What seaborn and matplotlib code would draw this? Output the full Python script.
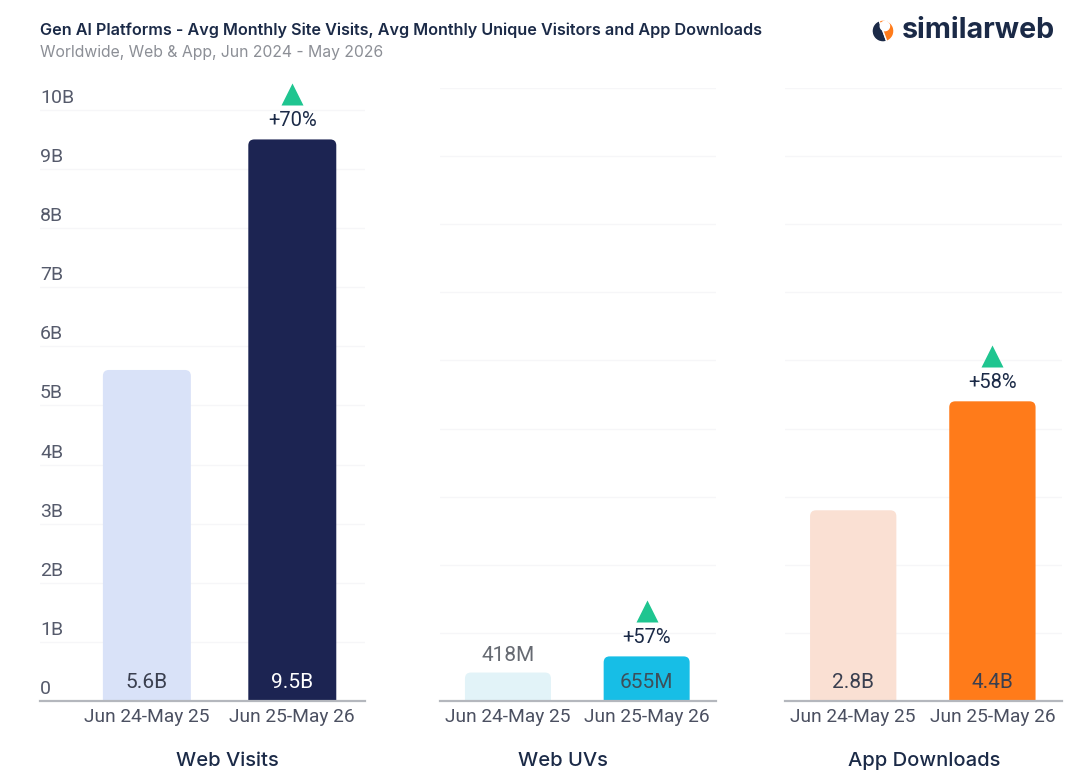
import numpy as np
import pandas as pd
import matplotlib
matplotlib.use("Agg")
import matplotlib.pyplot as plt
import matplotlib.transforms as mtransforms
from matplotlib.patches import FancyBboxPatch, Wedge
import seaborn as sns

# data (values in billions)
periods = ["Jun 24-May 25", "Jun 25-May 26"]
panel_titles = ["Web Visits", "Web UVs", "App Downloads"]
web_visits = [5.6, 9.5]
web_uvs = [0.418, 0.655]
app_downloads = [2.8, 4.4]
visit_labels = ["5.6B", "9.5B"]
uv_labels = ["418M", "655M"]
download_labels = ["2.8B", "4.4B"]
growth_labels = ["+70%", "+57%", "+58%"]
ytick_values = list(range(0, 11))
ytick_labels = ["0"] + [f"{v}B" for v in range(1, 11)]

# styles
NAVY = "#1b2a47"
palettes = [["#d9e2f8", "#1c2452"], ["#e2f3f8", "#17bee6"], ["#fae0d3", "#ff7b1a"]]
value_colors = [["#3a3f4f", "#ffffff"], ["#666a72", "#3d4f5a"], ["#3a3f4f", "#3a3f4f"]]
GREEN = "#1fc590"

sns.set_style("white")
plt.rcParams["font.family"] = ["Roboto", "DejaVu Sans"]

W, H = 1080, 781
fig = plt.figure(figsize=(W / 100, H / 100), dpi=100)

# axes boxes in pixels: left, right ; all share bottom 701, top 88
boxes = [(40, 365), (440, 716), (785, 1062)]
bottom_px, top_px = 701, 88
ylims = [10.37, 9.0, 9.0]
xlims = [(-0.735, 1.5), (-0.49, 1.5), (-0.49, 1.5)]
widths = [0.605, 0.62, 0.62]
title_x = [0.577, 0.446, 0.502]

values = [web_visits, web_uvs, app_downloads]
labels = [visit_labels, uv_labels, download_labels]

for i in range(3):
    l, r = boxes[i]
    ax = fig.add_axes([l / W, 1 - bottom_px / H, (r - l) / W, (bottom_px - top_px) / H])
    df = pd.DataFrame({"period": periods, "value": values[i]})
    sns.barplot(data=df, x="period", y="value", hue="period", palette=palettes[i],
                width=widths[i], legend=False, ax=ax, saturation=1)
    ax.set_xlim(*xlims[i])
    ax.set_ylim(0, ylims[i])

    # very faint gridlines
    for g in range(1, int(ylims[i]) + 1):
        ax.axhline(g, color="#f6f6f8", lw=1, zorder=0)

    # rounded tops
    pxx = ax.transData.transform((1, 0))[0] - ax.transData.transform((0, 0))[0]
    pxy = ax.transData.transform((0, 1))[1] - ax.transData.transform((0, 0))[1]
    rad = 6 / pxx
    asp = pxx / pxy
    for p in list(ax.patches):
        x, y, w, h = p.get_x(), p.get_y(), p.get_width(), p.get_height()
        fc = p.get_facecolor()
        p.remove()
        ext = 3 * rad * asp
        ax.add_patch(FancyBboxPatch((x, -ext), w, h + ext,
                                    boxstyle=f"round,pad=0,rounding_size={rad}",
                                    mutation_aspect=asp, fc=fc, ec="none", zorder=2))

    # value labels
    for j, v in enumerate(values[i]):
        bar_px = v * pxy
        if bar_px > 40:
            ax.annotate(labels[i][j], xy=(j, 0), xytext=(0, 18 * 0.72), textcoords="offset points",
                        ha="center", va="center", fontsize=15, color=value_colors[i][j], zorder=3)
        else:
            ax.annotate(labels[i][j], xy=(j, v), xytext=(0, 17 * 0.72), textcoords="offset points",
                        ha="center", va="center", fontsize=15, color=value_colors[i][j], zorder=3)

    # growth marker
    top = values[i][1]
    ax.annotate(growth_labels[i], xy=(1, top), xytext=(0, 19 * 0.72), textcoords="offset points",
                ha="center", va="center", fontsize=14.5, color=NAVY, fontweight="normal",
                annotation_clip=False)
    tri = ax.transData + mtransforms.ScaledTranslation(0, 0.45, fig.dpi_scale_trans)
    ax.plot([1], [top], marker="^", ms=16, color=GREEN, mec="none", transform=tri, clip_on=False)

    # axes styling
    sns.despine(ax=ax, left=True)
    ax.spines["bottom"].set_color("#b4b7bd")
    ax.spines["bottom"].set_linewidth(1.6)
    ax.set_yticks([])
    ax.set_xlabel("")
    ax.set_ylabel("")
    ax.tick_params(axis="x", length=0, pad=5, labelsize=13.8, labelcolor="#4b5061")
    ax.annotate(panel_titles[i], xy=(title_x[i], 0), xycoords="axes fraction",
                xytext=(0, -60 * 0.72), textcoords="offset points", ha="center", va="center",
                fontsize=14.5, color=NAVY, fontweight="medium", family=["Inter", "DejaVu Sans"])

    if i == 0:
        for v, t in zip(ytick_values, ytick_labels):
            ax.annotate(t, xy=(0, v), xycoords=("axes fraction", "data"), xytext=(0, 12 * 0.72),
                        textcoords="offset points", ha="left", va="center", fontsize=14,
                        color="#555a6b")

# header
fig.text(40 / W, 1 - 30 / H,
         "Gen AI Platforms - Avg Monthly Site Visits, Avg Monthly Unique Visitors and App Downloads",
         ha="left", va="center", fontsize=11.65, fontweight="semibold", color=NAVY,
         family=["Inter", "DejaVu Sans"])
fig.text(40 / W, 1 - 53 / H, "Worldwide, Web & App, Jun 2024 - May 2026",
         ha="left", va="center", fontsize=11.35, color="#8c8f96", family=["Inter", "DejaVu Sans"])

# logo
lax = fig.add_axes([872 / W, 1 - 42 / H, 22 / W, 22 / H])
lax.set_xlim(-1, 1)
lax.set_ylim(-1, 1)
lax.set_aspect("equal")
lax.axis("off")
lax.add_patch(Wedge((0, 0), 1, 110, 290, fc=NAVY))
lax.add_patch(Wedge((0, 0), 1, -70, 110, fc="#ff7b1a"))
lax.add_patch(Wedge((0.17, 0.45), 0.42, 0, 360, fc="white"))
fig.text(902 / W, 1 - 31 / H, "similarweb", ha="left", va="center", fontsize=20.6,
         fontweight="bold", color=NAVY, family=["Inter", "DejaVu Sans"])

fig.savefig("out.png", dpi=100)
